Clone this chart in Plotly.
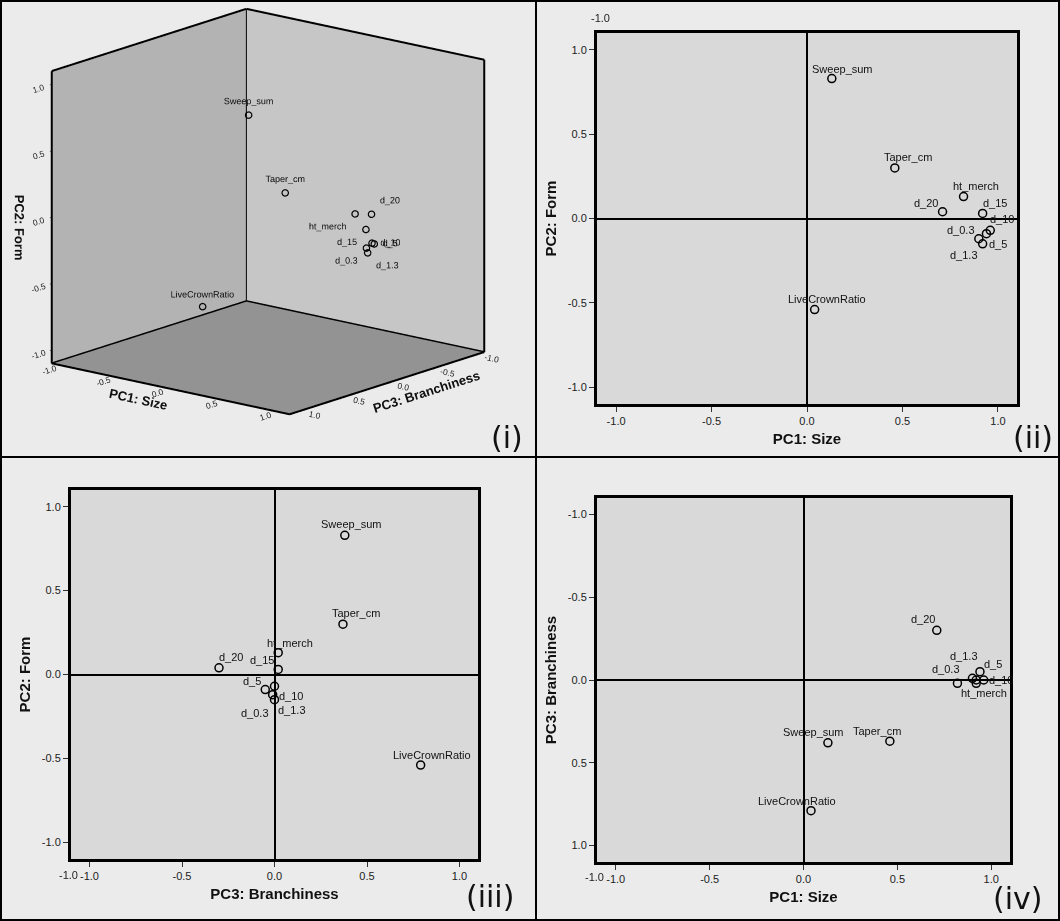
import plotly.graph_objects as go

# ---------------- data ----------------
variables = ["Sweep_sum", "Taper_cm", "ht_merch", "d_20", "d_15",
             "d_10", "d_5", "d_0.3", "d_1.3", "LiveCrownRatio"]
pc1_size = [0.13, 0.46, 0.82, 0.71, 0.92, 0.96, 0.94, 0.90, 0.92, 0.04]
pc2_form = [0.83, 0.30, 0.13, 0.04, 0.03, -0.07, -0.09, -0.12, -0.15, -0.54]
pc3_branch = [0.38, 0.37, 0.02, -0.30, 0.02, 0.00, -0.05, -0.01, 0.00, 0.79]

tick_vals = [-1.0, -0.5, 0.0, 0.5, 1.0]
tick_text = ["-1.0", "-0.5", "0.0", "0.5", "1.0"]
panel_names = ["(i)", "(ii)", "(iii)", "(iv)"]

# label offsets in pixels (dx right, dy down) -- style, not data
off_ii = [(11, -10), (13, -11), (12, -11), (-17, -9), (12, -10),
          (12, -11), (12, 10), (-18, -9), (-19, 11), (12, -11)]
off_iii = [(7, -11), (13, -11), (12, -10), (12, -11), (-16, -9),
           (16, 10), (-13, -9), (-18, 18), (17, 10), (11, -10)]
off_iv = [(-14, -11), (-13, -10), (27, 10), (-14, -11), None,
          (17, 0), (13, -8), (-26, -9), (-12, -24), (-14, -10)]
pos_i = ["top center", "top center", "bottom left", "top right", "bottom left",
         "middle right", "middle right", "bottom left", "bottom right", "top center"]

W, H = 1060, 921
R = 1.1
FONT = "Liberation Sans, Arial, sans-serif"

def px(x):
    return x / W

def py(y):
    return 1 - y / H

fig = go.Figure()

marker2d = dict(symbol="circle-open", size=8, color="black", line=dict(width=1.5, color="black"))

panels2d = [("x", "y", pc1_size, pc2_form, off_ii),
            ("x2", "y2", pc3_branch, pc2_form, off_iii),
            ("x3", "y3", pc1_size, pc3_branch, off_iv)]
for xa, ya, xs, ys, offs in panels2d:
    fig.add_trace(go.Scatter(x=xs, y=ys, mode="markers", marker=marker2d,
                             xaxis=xa, yaxis=ya, hoverinfo="skip", showlegend=False, cliponaxis=False))
    for name, xv, yv, off in zip(variables, xs, ys, offs):
        if off is None:
            continue
        fig.add_annotation(x=xv, y=yv, xref=xa, yref=ya, text=name, showarrow=False,
                           xanchor="center", yanchor="middle", xshift=off[0], yshift=-off[1],
                           font=dict(family=FONT, size=11, color="#111"))

# (i) 3D: x = PC3, y = PC1, z = PC2
fig.add_trace(go.Scatter3d(x=pc3_branch, y=pc1_size, z=pc2_form, mode="markers+text",
                           text=variables, textposition=pos_i,
                           marker=dict(symbol="circle-open", size=4, color="black", line=dict(width=1, color="black")),
                           textfont=dict(family=FONT, size=9, color="#111"),
                           scene="scene", hoverinfo="skip", showlegend=False))
# box edges (frame, from axis range)
ex, ey, ez = [], [], []
edges = [
    [(-R, -R, -R), (R, -R, -R), (R, R, -R), (-R, R, -R), (-R, -R, -R)],
    [(-R, -R, R), (R, -R, R)],
    [(R, -R, -R), (R, -R, R)],
    [(-R, -R, -R), (-R, -R, R)],
    [(-R, -R, R), (-R, R, R)],
    [(-R, R, -R), (-R, R, R)],
]
for e in edges:
    for p in e:
        ex.append(p[0]); ey.append(p[1]); ez.append(p[2])
    ex.append(None); ey.append(None); ez.append(None)
fig.add_trace(go.Scatter3d(x=ex, y=ey, z=ez, mode="lines", line=dict(color="black", width=4),
                           scene="scene", hoverinfo="skip", showlegend=False))

def ax2d(domain, title, rng, anchor):
    return dict(domain=domain, range=rng, anchor=anchor, showgrid=False, zeroline=True,
                zerolinecolor="black", zerolinewidth=1.5,
                showline=True, mirror=True, linecolor="black", linewidth=3,
                ticks="outside", ticklen=5, tickcolor="#333", tickwidth=1,
                tickmode="array", tickvals=tick_vals, ticktext=tick_text,
                tickfont=dict(family=FONT, size=11, color="#222"),
                title=dict(text="<b>" + title + "</b>", font=dict(family=FONT, size=15, color="#111"),
                           standoff=8),
                fixedrange=True)

scene_axis = dict(showbackground=True, showgrid=False, zeroline=False, showline=False,
                  showspikes=False, range=[-R, R], tickmode="array", tickvals=tick_vals,
                  ticktext=tick_text, tickfont=dict(family=FONT, size=10, color="#222"),
                  ticks="outside", ticklen=3, tickcolor="black")

EYE = 1.6
fig.update_layout(
    width=W, height=H, margin=dict(l=0, r=0, t=0, b=0),
    paper_bgcolor="#ebebeb", plot_bgcolor="#d9d9d9",
    showlegend=False,
    xaxis=ax2d([px(597), px(1017)], "PC1: Size", [-R, R], "y"),
    yaxis=ax2d([py(404), py(33)], "PC2: Form", [-R, R], "x"),
    xaxis2=ax2d([px(71), px(478)], "PC3: Branchiness", [-R, R], "y2"),
    yaxis2=ax2d([py(859), py(490)], "PC2: Form", [-R, R], "x2"),
    xaxis3=ax2d([px(597), px(1010)], "PC1: Size", [-R, R], "y3"),
    yaxis3=ax2d([py(862), py(498)], "PC3: Branchiness", [R, -R], "x3"),
    scene=dict(
        domain=dict(x=[px(3), px(533)], y=[py(455), py(3)]),
        xaxis=dict(scene_axis, backgroundcolor="#c6c6c6",
                   title=dict(text="<b>PC3: Branchiness</b>", font=dict(family=FONT, size=13, color="#111"))),
        yaxis=dict(scene_axis, backgroundcolor="#b3b3b3",
                   title=dict(text="<b>PC1: Size</b>", font=dict(family=FONT, size=13, color="#111"))),
        zaxis=dict(scene_axis, backgroundcolor="#939393",
                   title=dict(text="<b>PC2: Form</b>", font=dict(family=FONT, size=13, color="#111"))),
        aspectmode="manual",
        aspectratio=dict(x=1.36, y=1.36, z=1.34),
        camera=dict(eye=dict(x=0.748 * EYE, y=0.612 * EYE, z=0.212 * EYE),
                    up=dict(x=0, y=0, z=1), center=dict(x=0, y=0, z=-0.08),
                    projection=dict(type="orthographic")),
        bgcolor="rgba(0,0,0,0)",
    ),
)

# panel frames / dividers
fig.add_shape(type="rect", xref="paper", yref="paper", x0=px(1), x1=px(1059), y0=py(920), y1=py(1),
              line=dict(color="black", width=2))
fig.add_shape(type="line", xref="paper", yref="paper", x0=px(536), x1=px(536), y0=0, y1=1,
              line=dict(color="black", width=2))
fig.add_shape(type="line", xref="paper", yref="paper", x0=0, x1=1, y0=py(457), y1=py(457),
              line=dict(color="black", width=2))

# panel labels
for name, (x, y) in zip(panel_names, [(507, 437), (1033, 437), (490, 896), (1018, 898)]):
    fig.add_annotation(x=px(x), y=py(y), xref="paper", yref="paper", text=name, showarrow=False,
                       xanchor="center", yanchor="middle",
                       font=dict(family="DejaVu Sans, sans-serif", size=30, color="#111"))

# stray axis labels as in the original
for x, y, anc in [(600, 18, "center"), (80, 875, "right"), (606, 877, "right")]:
    fig.add_annotation(x=px(x), y=py(y), xref="paper", yref="paper", text="-1.0", showarrow=False,
                       xanchor=anc, yanchor="middle",
                       font=dict(family=FONT, size=11, color="#222"))

fig.write_html("out.html")
